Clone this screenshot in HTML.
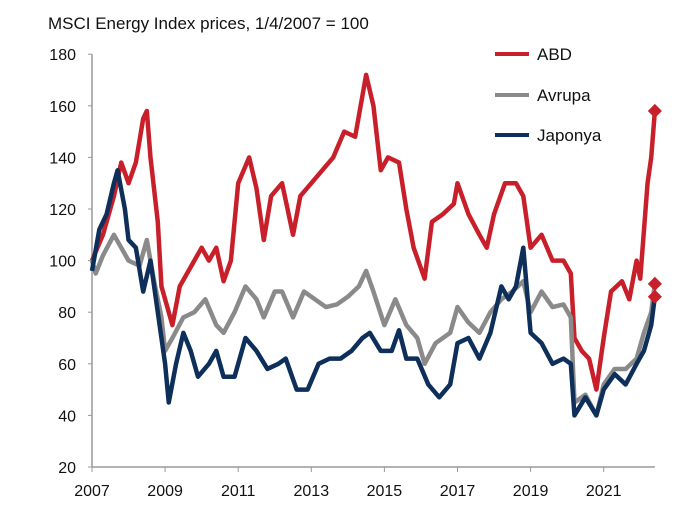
<!DOCTYPE html>
<html><head><meta charset="utf-8"><style>
body{margin:0;background:#fff;}
svg{display:block;font-family:"Liberation Sans",sans-serif;}
</style></head><body>
<svg id="chart" width="700" height="510">
<text x="48" y="29" font-size="17" fill="#111">MSCI Energy Index prices, 1/4/2007 = 100</text>
<g id="axes"></g><g id="series"></g>
<g>
<line x1="495" y1="54" x2="529" y2="54" stroke="#c8202b" stroke-width="4"/>
<text x="537" y="60" font-size="17" fill="#111">ABD</text>
<line x1="495" y1="95" x2="529" y2="95" stroke="#8a8a8a" stroke-width="4"/>
<text x="537" y="101" font-size="17" fill="#111">Avrupa</text>
<line x1="495" y1="135" x2="529" y2="135" stroke="#0d2f5a" stroke-width="4"/>
<text x="537" y="141" font-size="17" fill="#111">Japonya</text>
</g>
</svg>
<script>
const yTicks=[20,40,60,80,100,120,140,160,180];
const xTicks=[2007,2009,2011,2013,2015,2017,2019,2021];
const abdT=[2007.0,2007.3,2007.6,2007.8,2008.0,2008.2,2008.4,2008.5,2008.6,2008.8,2008.9,2009.0,2009.2,2009.4,2009.6,2009.8,2010.0,2010.2,2010.4,2010.6,2010.8,2011.0,2011.3,2011.5,2011.7,2011.9,2012.2,2012.5,2012.7,2013.0,2013.3,2013.6,2013.9,2014.2,2014.5,2014.7,2014.9,2015.1,2015.4,2015.6,2015.8,2016.1,2016.3,2016.6,2016.9,2017.0,2017.3,2017.6,2017.8,2018.0,2018.3,2018.6,2018.8,2019.0,2019.3,2019.6,2019.9,2020.1,2020.2,2020.4,2020.6,2020.8,2021.0,2021.2,2021.5,2021.7,2021.9,2022.0,2022.2,2022.3,2022.4];
const abdV=[100,110,125,138,130,138,155,158,140,115,90,85,75,90,95,100,105,100,105,92,100,130,140,128,108,125,130,110,125,130,135,140,150,148,172,160,135,140,138,120,105,93,115,118,122,130,118,110,105,118,130,130,125,105,110,100,100,95,70,65,62,50,70,88,92,85,100,93,130,140,158];
const eurT=[2007.0,2007.1,2007.3,2007.6,2007.8,2008.0,2008.3,2008.5,2008.7,2008.9,2009.0,2009.2,2009.5,2009.8,2010.1,2010.4,2010.6,2010.9,2011.2,2011.5,2011.7,2012.0,2012.2,2012.5,2012.8,2013.1,2013.4,2013.7,2014.0,2014.3,2014.5,2014.7,2015.0,2015.3,2015.6,2015.9,2016.1,2016.4,2016.8,2017.0,2017.3,2017.6,2017.9,2018.2,2018.5,2018.8,2019.0,2019.3,2019.6,2019.9,2020.1,2020.2,2020.5,2020.8,2021.0,2021.3,2021.6,2021.9,2022.1,2022.3,2022.4];
const eurV=[100,95,102,110,105,100,98,108,92,78,65,70,78,80,85,75,72,80,90,85,78,88,88,78,88,85,82,83,86,90,96,88,75,85,75,70,60,68,72,82,76,72,80,85,88,92,80,88,82,83,78,45,48,40,52,58,58,62,72,80,91];
const jpT=[2007.0,2007.2,2007.4,2007.6,2007.7,2007.9,2008.0,2008.2,2008.4,2008.6,2008.8,2009.0,2009.1,2009.3,2009.5,2009.7,2009.9,2010.2,2010.4,2010.6,2010.9,2011.2,2011.5,2011.8,2012.1,2012.3,2012.6,2012.9,2013.2,2013.5,2013.8,2014.1,2014.4,2014.6,2014.9,2015.2,2015.4,2015.6,2015.9,2016.2,2016.5,2016.8,2017.0,2017.3,2017.6,2017.9,2018.2,2018.4,2018.6,2018.8,2019.0,2019.3,2019.6,2019.9,2020.1,2020.2,2020.5,2020.8,2021.0,2021.3,2021.6,2021.9,2022.1,2022.3,2022.4];
const jpV=[96,112,118,130,135,120,108,105,88,100,80,60,45,60,72,65,55,60,65,55,55,70,65,58,60,62,50,50,60,62,62,65,70,72,65,65,73,62,62,52,47,52,68,70,62,72,90,85,90,105,72,68,60,62,60,40,47,40,50,56,52,60,65,75,86];
const NS='http://www.w3.org/2000/svg';
const x0=92,pxYear=36.55,yBase=467,pxUnit=51.6/20;
const X=t=>x0+(t-2007)*pxYear;
const Y=v=>yBase-(v-20)*pxUnit;
const axes=document.getElementById('axes');
function mk(tag,attrs,parent){const e=document.createElementNS(NS,tag);for(const k in attrs)e.setAttribute(k,attrs[k]);parent.appendChild(e);return e;}
const ya=mk('line',{x1:x0,y1:Y(180),x2:x0,y2:yBase,stroke:'#999','stroke-width':1.5},axes);


const xa=mk('line',{x1:x0,y1:yBase,x2:X(2022.4),y2:yBase,stroke:'#999','stroke-width':1.5},axes);


yTicks.forEach(v=>{
 mk('line',{x1:x0-4,y1:Y(v),x2:x0,y2:Y(v),stroke:'#999'},axes);
 const t=mk('text',{x:x0-16,y:Y(v)+6,'text-anchor':'end','font-size':16,fill:'#111'},axes);
 t.textContent=v;
 
 
});
xTicks.forEach(v=>{
 mk('line',{x1:X(v),y1:yBase,x2:X(v),y2:yBase+5,stroke:'#999'},axes);
 const t=mk('text',{x:X(v),y:yBase+29,'text-anchor':'middle','font-size':16,fill:'#111'},axes);
 t.textContent=v;
 
 
});
const sg=document.getElementById('series');
function draw(ts,vs,color,name){
 const p=mk('polyline',{points:ts.map((t,i)=>X(t)+','+Y(vs[i])).join(' '),fill:'none',stroke:color,'stroke-width':4.5,'stroke-linejoin':'round'},sg);
 
 
}
function marker(ts,vs,name){
 const lt=ts[ts.length-1],lv=vs[vs.length-1];
 const d=mk('rect',{x:X(lt)-5,y:Y(lv)-5,width:10,height:10,fill:'#c8202b',transform:'rotate(45 '+X(lt)+' '+Y(lv)+')'},sg);
 
 
}
draw(abdT,abdV,'#c8202b','abd');
draw(eurT,eurV,'#8a8a8a','avrupa');
draw(jpT,jpV,'#0d2f5a','japonya');
marker(abdT,abdV,'abd');
marker(eurT,eurV,'avrupa');
marker(jpT,jpV,'japonya');
</script>
</body></html>
